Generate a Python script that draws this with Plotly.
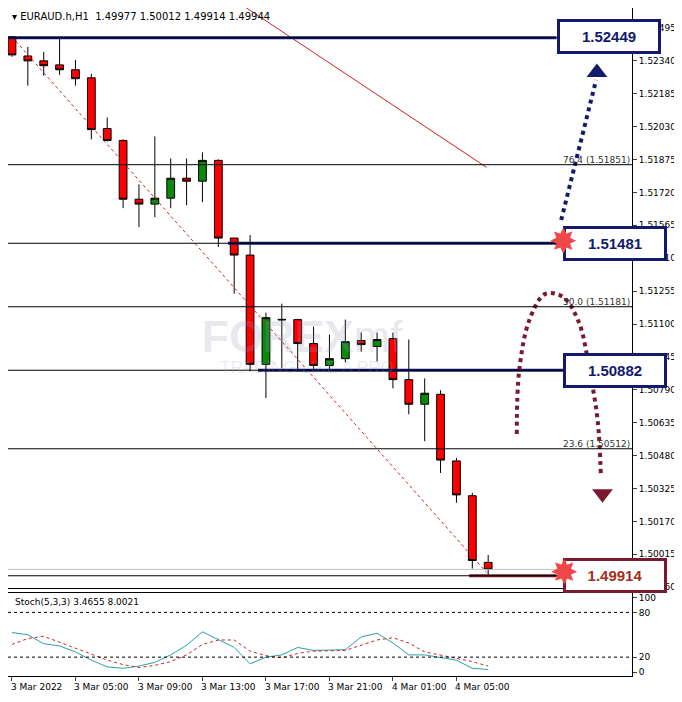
import plotly.graph_objects as go

# EURAUD H1 candles, 3 Mar 2022 onwards
bar_idx = list(range(31))
opens = [1.52453, 1.52363, 1.52340, 1.52321, 1.52298, 1.52260, 1.52021, 1.51965, 1.51688, 1.51665,
         1.51693, 1.51787, 1.51773, 1.51871, 1.51505, 1.51425, 1.50910, 1.51122, 1.51121, 1.51008,
         1.50905, 1.50937, 1.51022, 1.50994, 1.51031, 1.50838, 1.50722, 1.50769, 1.50455, 1.50291, 1.49977]
highs = [1.52457, 1.52406, 1.52382, 1.52443, 1.52345, 1.52279, 1.52073, 1.51970, 1.51758, 1.51984,
         1.51880, 1.51880, 1.51909, 1.51876, 1.51505, 1.51519, 1.51153, 1.51196, 1.51125, 1.51088,
         1.51050, 1.51121, 1.51060, 1.51060, 1.51060, 1.51027, 1.50844, 1.50788, 1.50469, 1.50305, 1.50012]
lows = [1.52359, 1.52223, 1.52270, 1.52274, 1.52223, 1.51970, 1.51960, 1.51646, 1.51557, 1.51604,
        1.51646, 1.51660, 1.51674, 1.51463, 1.51243, 1.50877, 1.50751, 1.50891, 1.50877, 1.50877,
        1.50881, 1.50919, 1.50970, 1.50924, 1.50797, 1.50675, 1.50548, 1.50398, 1.50258, 1.49948, 1.49914]
closes = [1.52368, 1.52340, 1.52317, 1.52298, 1.52256, 1.52016, 1.51965, 1.51688, 1.51665, 1.51693,
          1.51787, 1.51773, 1.51871, 1.51505, 1.51425, 1.50910, 1.51130, 1.51120, 1.51008, 1.50905,
          1.50937, 1.51017, 1.51003, 1.51027, 1.50838, 1.50722, 1.50774, 1.50459, 1.50295, 1.49986, 1.49944]

# stochastic (5,3,3)
stoch_main = [53, 50, 38, 35, 27, 16, 7, 5, 8, 13, 23, 36, 54, 43, 33, 11, 20, 23, 33, 29,
              29, 30, 47, 52, 39, 23, 23, 20, 16, 5, 3.4655]
stoch_signal = [37, 45, 48, 40, 33, 25, 16, 10, 6, 9, 14, 23, 37, 43, 43, 28, 22, 19, 25, 28,
                29, 29, 36, 43, 46, 39, 27, 23, 18, 14, 8.0021]

fib_pcts = [0, 23.6, 38.2, 50, 61.8, 76.4, 100]
fib_low, fib_high = 1.49914, 1.52449
key_levels = [1.52449, 1.51481, 1.50882, 1.49914]

price_ticks = [1.52495, 1.52340, 1.52185, 1.52030, 1.51875, 1.51720, 1.51565, 1.51410, 1.51255,
               1.51100, 1.50945, 1.50790, 1.50635, 1.50480, 1.50325, 1.50170, 1.50015, 1.49860]
time_ticks = [0, 4, 8, 12, 16, 20, 24, 28]
time_labels = ["3 Mar 2022", "3 Mar 05:00", "3 Mar 09:00", "3 Mar 13:00", "3 Mar 17:00",
               "3 Mar 21:00", "4 Mar 01:00", "4 Mar 05:00"]

NAVY = "#131a6e"
MAROON = "#7a1a2e"
XR = [-0.25, 39.06]

fig = go.Figure()

# fibo lines
for pct in fib_pcts:
    lvl = fib_low + (fib_high - fib_low) * pct / 100
    fig.add_shape(type="line", x0=XR[0], x1=XR[1], y0=lvl, y1=lvl, line=dict(color="black", width=1))
    if pct in (23.6, 50, 76.4):
        fig.add_annotation(x=XR[1], y=lvl, text=f"{pct:.1f} ({lvl:.5f})", xanchor="right", yanchor="bottom",
                           showarrow=False, font=dict(size=9, color="#333"), yshift=-2)

# bid line
fig.add_shape(type="line", x0=XR[0], x1=XR[1], y0=closes[-1], y1=closes[-1], line=dict(color="#c0c0c0", width=1))

# watermark
fig.add_annotation(x=18.3, y=1.51041, text="<b>FOREX</b>mf", showarrow=False,
                   font=dict(size=44, color="rgba(150,155,185,0.22)", family="Arial"))
fig.add_annotation(x=18.6, y=1.50895, text="TRADING LIKE A PRO", showarrow=False,
                   font=dict(size=17, color="rgba(150,155,185,0.22)", family="Arial"))

# MA-like red line and red dashed trendline
fig.add_trace(go.Scatter(x=[14.6, 29.9], y=[1.52598, 1.51838], mode="lines",
                         line=dict(color="#d02020", width=1), hoverinfo="skip"))
fig.add_trace(go.Scatter(x=[0, 29.9], y=[1.52453, 1.49929], mode="lines",
                         line=dict(color="#d02020", width=1, dash="dot"), hoverinfo="skip"))

# thick key level lines
seg = [(-0.25, 34.3), (13.6, 34.8), (15.5, 34.8), (28.8, 34.3)]
for lvl, (a, b), col in zip(key_levels, seg, [NAVY, NAVY, NAVY, MAROON]):
    fig.add_trace(go.Scatter(x=[a, b], y=[lvl, lvl], mode="lines", line=dict(color=col, width=3), hoverinfo="skip"))

fig.add_trace(go.Candlestick(
    x=bar_idx, open=opens, high=highs, low=lows, close=closes,
    increasing=dict(fillcolor="#0a8a0a", line=dict(color="black", width=1)),
    decreasing=dict(fillcolor="#ff0000", line=dict(color="black", width=1)),
    whiskerwidth=0, hoverinfo="skip"))

# projection arrows
fig.add_trace(go.Scatter(x=[34.6, 35.7, 36.8], y=[1.51590, 1.51925, 1.52250],
                         mode="lines", line=dict(color=NAVY, width=4, dash="dot"), hoverinfo="skip"))
fig.add_trace(go.Scatter(x=[36.85], y=[1.52285], mode="markers",
                         marker=dict(symbol="triangle-up", size=18, color=NAVY), hoverinfo="skip"))
arc_x = [31.8, 31.95, 32.6, 33.6, 34.7, 35.7, 36.4, 36.9, 37.1]
arc_y = [1.50582, 1.50877, 1.51120, 1.51242, 1.51228, 1.51111, 1.50877, 1.50642, 1.50385]
fig.add_trace(go.Scatter(x=arc_x, y=arc_y, mode="lines", line=dict(color=MAROON, width=4, dash="dot"),
                         line_shape="spline", hoverinfo="skip"))
fig.add_trace(go.Scatter(x=[37.2], y=[1.50300], mode="markers",
                         marker=dict(symbol="triangle-down", size=18, color=MAROON), hoverinfo="skip"))

# label boxes
boxes = [(37.6, 1.52457, "1.52449", NAVY), (38.0, 1.51481, "1.51481", NAVY),
         (38.0, 1.50882, "1.50882", NAVY), (38.0, 1.49914, "1.49914", "#a03020")]
for bx, by, txt, col in boxes:
    border = MAROON if col != NAVY else NAVY
    fig.add_annotation(x=bx, y=by, text=f"<b>{txt}</b>", showarrow=False,
                       font=dict(size=15, color=col, family="Arial"), bgcolor="white",
                       bordercolor=border, borderwidth=3, borderpad=6, width=86)

# starbursts, drawn as annotations so they sit over the box edges
for sx, sy in [(34.75, 1.51490), (34.8, 1.49930)]:
    fig.add_annotation(x=sx, y=sy, text="✸", showarrow=False,
                       font=dict(size=34, color="#f04848", family="DejaVu Sans"))

# stochastic
fig.add_trace(go.Scatter(x=bar_idx, y=stoch_main, mode="lines", line=dict(color="#2aa0a8", width=1),
                         xaxis="x2", yaxis="y2", hoverinfo="skip"))
fig.add_trace(go.Scatter(x=bar_idx, y=stoch_signal, mode="lines", line=dict(color="#d02020", width=1, dash="dot"),
                         xaxis="x2", yaxis="y2", hoverinfo="skip"))
for lv in (20, 80):
    fig.add_shape(type="line", x0=XR[0], x1=XR[1], y0=lv, y1=lv, xref="x2", yref="y2",
                  line=dict(color="black", width=1, dash="dot"))

fig.add_annotation(x=0.003, y=0.998, xref="paper", yref="paper", text="▾ EURAUD.h,H1  1.49977 1.50012 1.49914 1.49944",
                   showarrow=False, xanchor="left", yanchor="top", font=dict(size=10, color="black"))
fig.add_annotation(x=0.008, y=0.122, xref="paper", yref="paper", text="Stoch(5,3,3) 3.4655 8.0021",
                   showarrow=False, xanchor="left", yanchor="top", font=dict(size=9, color="black"))
for t, lab in zip(time_ticks, time_labels):
    fig.add_annotation(x=t - 0.2, y=0, xref="x2", yref="paper", text=lab, showarrow=False,
                       xanchor="left", yanchor="top", yshift=-4, font=dict(size=9, color="black"))

axis_common = dict(showgrid=False, zeroline=False, showline=True, linecolor="black", mirror=True)
fig.update_layout(
    width=682, height=702, margin=dict(l=0, r=58, t=0, b=34),
    paper_bgcolor="white", plot_bgcolor="white", showlegend=False,
    font=dict(family="DejaVu Sans", size=9, color="black"),
    xaxis=dict(range=XR, showticklabels=False, rangeslider=dict(visible=False), anchor="y", **axis_common),
    yaxis=dict(range=[1.49854, 1.52589], domain=[0.131, 1], side="right", tickvals=price_ticks,
               ticktext=[f"{v:.5f}" for v in price_ticks], ticks="outside", ticklen=4, **axis_common),
    xaxis2=dict(range=XR, anchor="y2", tickvals=time_ticks, showticklabels=False, ticks="outside",
                ticklen=4, **axis_common),
    yaxis2=dict(range=[-5.3, 106.7], domain=[0, 0.125], side="right", anchor="x2", tickvals=[0, 20, 80, 100],
                ticks="outside", ticklen=4, **axis_common),
)

fig.write_html("out.html")
